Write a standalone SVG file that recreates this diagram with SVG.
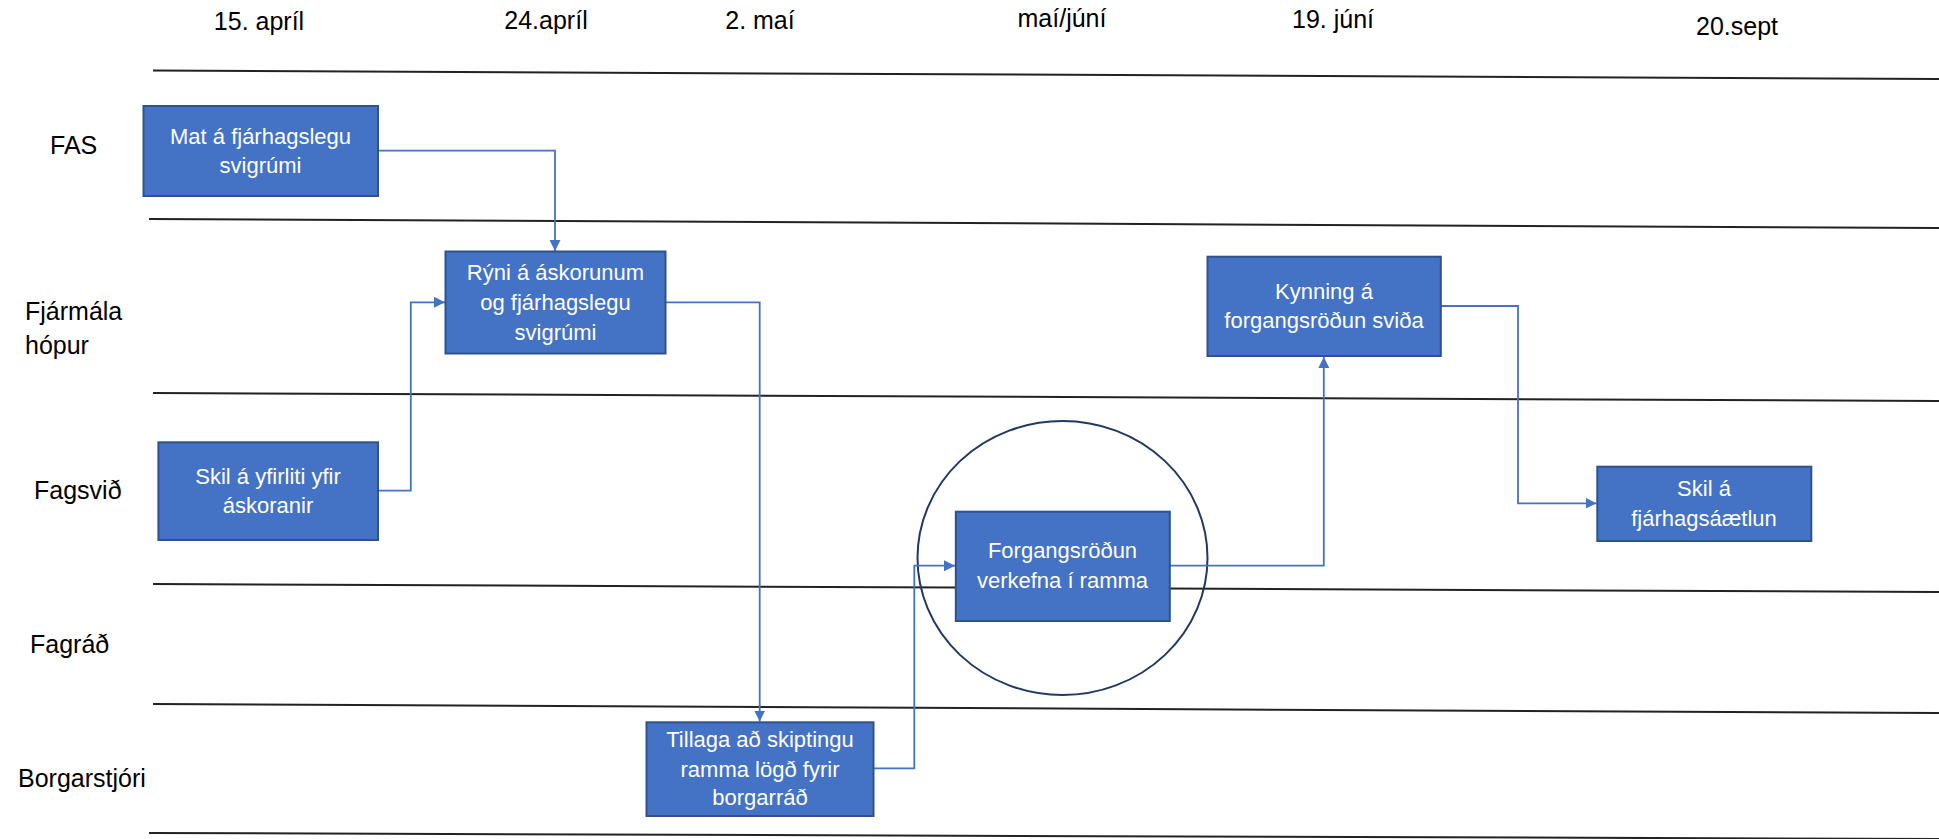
<svg xmlns="http://www.w3.org/2000/svg" width="1939" height="839" viewBox="0 0 1939 839">
<style>
.lane{stroke:#222;stroke-width:2;fill:none}
.hdr{font-family:"Liberation Sans",Arial,sans-serif;font-size:25px;fill:#000;text-anchor:middle}
.lbl{font-family:"Liberation Sans",Arial,sans-serif;font-size:25px;fill:#000}
.box{fill:#4472C4;stroke:#2F528F;stroke-width:2}
.bt{font-family:"Liberation Sans",Arial,sans-serif;font-size:22px;fill:#fff;text-anchor:middle}
.con{stroke:#4472C4;stroke-width:1.8;fill:none;marker-end:url(#arr)}
</style>
<defs>
<marker id="arr" markerUnits="userSpaceOnUse" markerWidth="12" markerHeight="12" refX="11" refY="5.5" orient="auto">
<path d="M0,0 L11,5.5 L0,11 z" fill="#4472C4"/>
</marker>
</defs>
<rect width="1939" height="839" fill="#fff"/>
<g id="headers">
<text class="hdr" x="259" y="30">15. apríl</text>
<text class="hdr" x="546" y="29">24.apríl</text>
<text class="hdr" x="760" y="29">2. maí</text>
<text class="hdr" x="1062" y="27">maí/júní</text>
<text class="hdr" x="1333" y="28">19. júní</text>
<text class="hdr" x="1737" y="35">20.sept</text>
</g>
<g id="lanes">
<line class="lane" x1="153" y1="70.5" x2="1939" y2="79"/>
<line class="lane" x1="149" y1="219" x2="1939" y2="228"/>
<line class="lane" x1="153" y1="393" x2="1939" y2="401"/>
<line class="lane" x1="153" y1="584" x2="1939" y2="592"/>
<line class="lane" x1="153" y1="704" x2="1939" y2="713"/>
<line class="lane" x1="149" y1="833" x2="1939" y2="839"/>
</g>
<g id="lane-labels">
<text class="lbl" x="50" y="154">FAS</text>
<text class="lbl" x="25" y="320">Fjármála</text>
<text class="lbl" x="25" y="354">hópur</text>
<text class="lbl" x="34" y="499">Fagsvið</text>
<text class="lbl" x="30" y="653">Fagráð</text>
<text class="lbl" x="18" y="787">Borgarstjóri</text>
</g>
<g id="highlight">
<ellipse cx="1062.5" cy="558" rx="145" ry="137" fill="none" stroke="#1F3864" stroke-width="2"/>
</g>
<g id="connectors">
<path class="con" d="M378,150.7 H555 V251"/>
<path class="con" d="M378,490.7 H410.8 V302.3 H445"/>
<path class="con" d="M665.6,302.3 H759.7 V721.5"/>
<path class="con" d="M873.5,768.3 H914.3 V565.7 H955"/>
<path class="con" d="M1169.8,565.7 H1323.8 V357"/>
<path class="con" d="M1440.8,306 H1518 V503.3 H1596.5"/>
</g>
<g id="n-mat">
<rect class="box" x="143.5" y="106" width="234.5" height="90"/>
<text class="bt" x="260.5" y="144">Mat á fjárhagslegu</text>
<text class="bt" x="260.5" y="172.7">svigrúmi</text>
</g>
<g id="n-ryni">
<rect class="box" x="445.5" y="251.5" width="220" height="102"/>
<text class="bt" x="555.5" y="280">Rýni á áskorunum</text>
<text class="bt" x="555.5" y="310">og fjárhagslegu</text>
<text class="bt" x="555.5" y="340">svigrúmi</text>
</g>
<g id="n-skil-yfirlit">
<rect class="box" x="158.4" y="442.3" width="219.6" height="97.7"/>
<text class="bt" x="268" y="484">Skil á yfirliti yfir</text>
<text class="bt" x="268" y="512.7">áskoranir</text>
</g>
<g id="n-tillaga">
<rect class="box" x="646.5" y="722.3" width="227" height="93.7"/>
<text class="bt" x="760" y="746.7">Tillaga að skiptingu</text>
<text class="bt" x="760" y="776.7">ramma lögð fyrir</text>
<text class="bt" x="760" y="805">borgarráð</text>
</g>
<g id="n-forgang">
<rect class="box" x="955.8" y="511.7" width="214" height="109.3"/>
<text class="bt" x="1062.5" y="558.3">Forgangsröðun</text>
<text class="bt" x="1062.5" y="588.3">verkefna í ramma</text>
</g>
<g id="n-kynning">
<rect class="box" x="1207.5" y="256.7" width="233.3" height="99.3"/>
<text class="bt" x="1324" y="299.3">Kynning á</text>
<text class="bt" x="1324" y="328.3">forgangsröðun sviða</text>
</g>
<g id="n-skil-fjarhag">
<rect class="box" x="1597.3" y="466.7" width="214" height="74.3"/>
<text class="bt" x="1704" y="496">Skil á</text>
<text class="bt" x="1704" y="526">fjárhagsáætlun</text>
</g>
</svg>
